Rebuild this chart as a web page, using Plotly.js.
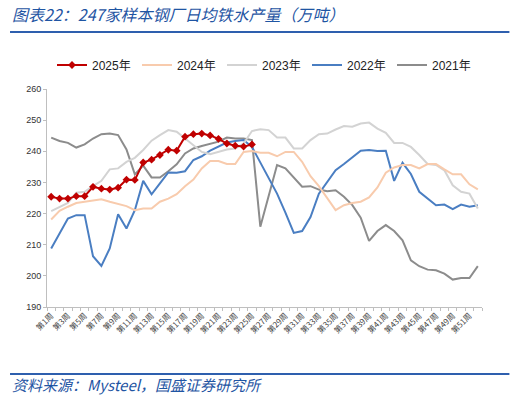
<!DOCTYPE html>
<html>
<head>
<meta charset="utf-8">
<script src="https://cdn.plot.ly/plotly-3.0.1.min.js"></script>
<style>
  html, body { margin: 0; padding: 0; background: #fff; }
  #myDiv { width: 515px; height: 400px; }
</style>
</head>
<body>
<div id="myDiv"></div>
<script>
// ------ DATOS
const weeks = [1, 2, 3, 4, 5, 6, 7, 8, 9, 10, 11, 12, 13, 14, 15, 16, 17, 18, 19, 20, 21, 22, 23, 24, 25, 26,
  27, 28, 29, 30, 31, 32, 33, 34, 35, 36, 37, 38, 39, 40, 41, 42, 43, 44, 45, 46, 47, 48, 49, 50, 51, 52];
const tickWeeks = [1, 3, 5, 7, 9, 11, 13, 15, 17, 19, 21, 23, 25, 27, 29, 31, 33, 35, 37, 39, 41, 43, 45, 47, 49, 51];
const tickLabels = ["第1周", "第3周", "第5周", "第7周", "第9周", "第11周", "第13周", "第15周", "第17周", "第19周",
  "第21周", "第23周", "第25周", "第27周", "第29周", "第31周", "第33周", "第35周", "第37周", "第39周",
  "第41周", "第43周", "第45周", "第47周", "第49周", "第51周"];

const d2025 = [225.4, 224.8, 224.8, 225.6, 225.6, 228.6, 228.0, 227.7, 228.3, 230.9, 230.8, 236.4, 237.3,
  238.8, 240.5, 240.2, 244.7, 245.5, 245.7, 245.1, 244.0, 242.5, 241.8, 241.5, 242.2];
const d2024 = [218.1, 220.9, 222.2, 223.4, 223.8, 224.1, 224.6, 223.8, 223.0, 222.4, 221.1, 221.6, 221.6,
  223.8, 224.8, 226.2, 228.8, 230.9, 234.5, 236.9, 236.9, 235.9, 235.9, 239.8, 240.1, 239.5, 239.5, 238.4,
  239.8, 239.8, 236.6, 232.0, 228.8, 224.8, 221.1, 222.7, 223.4, 223.8, 225.2, 228.4, 233.1, 234.8, 235.6,
  235.6, 234.5, 235.9, 235.9, 234.2, 232.6, 232.6, 229.4, 227.8];
const d2023 = [220.8, 222.2, 223.4, 226.7, 227.0, 228.8, 230.5, 234.2, 234.5, 236.6, 237.9, 240.4, 243.4,
  245.2, 246.8, 246.3, 244.1, 241.7, 239.8, 239.1, 239.8, 240.6, 240.9, 242.5, 246.5, 247.1, 246.8, 244.4,
  244.4, 240.9, 240.9, 243.6, 245.5, 245.7, 247.0, 248.1, 247.9, 248.9, 249.2, 247.3, 245.9, 242.7, 242.7,
  241.4, 238.8, 235.9, 235.6, 233.9, 229.1, 227.0, 226.4, 221.6];
const d2022 = [208.8, 213.8, 218.4, 219.5, 219.5, 206.3, 203.2, 208.8, 219.8, 215.2, 221.1, 230.5, 226.2,
  229.7, 233.2, 233.1, 233.6, 237.2, 238.4, 240.2, 241.4, 242.8, 243.3, 243.6, 241.4, 236.3, 231.0, 226.4,
  220.3, 213.8, 214.4, 218.9, 226.4, 230.2, 233.9, 235.9, 238.2, 240.2, 240.4, 240.1, 240.2, 230.5, 236.3,
  232.7, 227.0, 224.8, 222.7, 222.9, 221.4, 222.9, 222.2, 222.7];
const d2021 = [244.4, 243.3, 242.7, 241.2, 242.2, 244.1, 245.5, 245.7, 245.2, 240.6, 232.6, 235.4, 231.6,
  231.6, 233.6, 235.8, 239.3, 240.9, 241.7, 242.3, 243.1, 244.4, 244.1, 244.1, 243.6, 215.8, 225.8, 235.6,
  234.5, 231.6, 228.6, 228.8, 227.7, 227.2, 227.5, 225.4, 222.7, 218.7, 211.2, 214.4, 216.3, 214.4, 211.4,
  205.0, 203.1, 202.0, 201.8, 200.7, 198.8, 199.3, 199.3, 203.1];

const seriesNames = ["2025年", "2024年", "2023年", "2022年", "2021年"];
const seriesColors = ["#C00000", "#F8CBAD", "#D3D3D3", "#4A7EC2", "#8C8C8C"];

// ------ TRAZAS
function linea(valores, i) {
  return {
    x: weeks.slice(0, valores.length),
    y: valores,
    name: seriesNames[i],
    type: 'scatter',
    mode: 'lines',
    line: { color: seriesColors[i], width: 2 },
    legendrank: i + 1,
    hoverinfo: 'skip'
  };
}

const trace2025 = linea(d2025, 0);
trace2025.mode = 'lines+markers';
trace2025.marker = { symbol: 'diamond', size: 6, color: seriesColors[0] };

const data = [linea(d2021, 4), linea(d2022, 3), linea(d2023, 2), linea(d2024, 1), trace2025];

const azul = "#1F55A3";

const layout = {
  width: 515,
  height: 400,
  margin: { l: 47, r: 33, t: 89, b: 93 },
  paper_bgcolor: '#fff',
  plot_bgcolor: '#fff',
  font: { family: 'Arial, "Noto Sans CJK SC", sans-serif', color: '#333' },
  showlegend: true,
  legend: {
    orientation: 'h',
    x: 0.5, xref: 'paper', xanchor: 'center',
    y: 1 - 65 / 400, yref: 'container', yanchor: 'middle',
    font: { size: 12, color: '#222', family: 'Arial, "Noto Sans CJK SC", sans-serif' },
    entrywidth: 40,
    itemwidth: 30,
    traceorder: 'normal'
  },
  xaxis: {
    range: [0.5, 52.5],
    showgrid: false,
    zeroline: false,
    showline: true,
    linecolor: '#BFBFBF',
    linewidth: 1,
    tickmode: 'array',
    tickvals: tickWeeks,
    ticktext: tickLabels,
    ticks: '',
    tickangle: -45,
    tickfont: { size: 8, color: '#444', family: '"Noto Sans CJK SC", sans-serif' },
    minor: { tick0: 0.5, dtick: 1, ticks: 'outside', ticklen: 3, tickcolor: '#BFBFBF', showgrid: false }
  },
  yaxis: {
    range: [190, 260],
    dtick: 10,
    showgrid: false,
    zeroline: false,
    showline: true,
    linecolor: '#BFBFBF',
    linewidth: 1,
    ticks: 'outside',
    ticklen: 3,
    tickcolor: '#BFBFBF',
    tickfont: { size: 9, color: '#333', family: 'Arial, sans-serif' }
  },
  annotations: [
    {
      text: '图表22：247家样本钢厂日均铁水产量（万吨）',
      xref: 'paper', yref: 'paper',
      x: -0.085, y: 1.0, xanchor: 'left', yanchor: 'top',
      yshift: 89,
      showarrow: false,
      font: { size: 16, color: azul, style: 'italic', family: '"Noto Sans CJK SC", sans-serif' }
    },
    {
      text: '资料来源：Mysteel，国盛证券研究所',
      xref: 'paper', yref: 'paper',
      x: -0.085, y: 0, xanchor: 'left', yanchor: 'top',
      yshift: -65,
      showarrow: false,
      font: { size: 15, color: azul, style: 'italic', family: '"Noto Sans CJK SC", sans-serif' }
    }
  ],
  shapes: [
    { type: 'line', xref: 'paper', yref: 'paper', x0: -0.085, x1: 1.063, y0: 1, y1: 1,
      line: { color: '#2E5FAE', width: 2 } },
    { type: 'line', xref: 'paper', yref: 'paper', x0: -0.085, x1: 1.063, y0: 0, y1: 0,
      line: { color: '#2E5FAE', width: 2 } }
  ]
};

// posiciones de las lineas horizontales (en px del contenedor)
const alturaPlot = 400 - 89 - 93;
layout.shapes[0].y0 = layout.shapes[0].y1 = 1 + (89 - 32) / alturaPlot;
layout.shapes[1].y0 = layout.shapes[1].y1 = -(374 - 307) / alturaPlot;

Plotly.newPlot('myDiv', data, layout, { displayModeBar: false, staticPlot: true });
</script>
</body>
</html>
